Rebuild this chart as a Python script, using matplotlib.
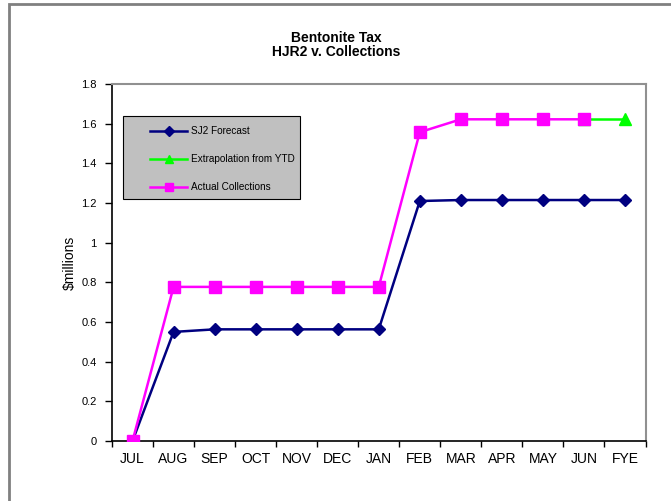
import matplotlib
matplotlib.use("Agg")
import matplotlib.pyplot as plt
from matplotlib.patches import Rectangle
from matplotlib.lines import Line2D
import numpy as np

months = ["JUL", "AUG", "SEP", "OCT", "NOV", "DEC", "JAN", "FEB", "MAR", "APR", "MAY", "JUN", "FYE"]
sj2_forecast = [0, 0.55, 0.563, 0.563, 0.563, 0.563, 0.563, 1.21, 1.215, 1.215, 1.215, 1.215, 1.215]
extrapolation = [None, None, None, None, None, None, None, None, None, None, None, 1.622, 1.622]
actual = [0, 0.777, 0.777, 0.777, 0.777, 0.777, 0.777, 1.557, 1.622, 1.622, 1.622, 1.622, None]
series_names = ["SJ2 Forecast", "Extrapolation from YTD", "Actual Collections"]
y_ticks = [0, 0.2, 0.4, 0.6, 0.8, 1, 1.2, 1.4, 1.6, 1.8]
y_labels = ["0", "0.2", "0.4", "0.6", "0.8", "1", "1.2", "1.4", "1.6", "1.8"]

plt.rcParams['font.family'] = ['Liberation Sans', 'DejaVu Sans']

W, H = 671, 501
fig = plt.figure(figsize=(W / 100, H / 100), dpi=100)

def fx(px):
    return px / W

def fy(py):
    return 1 - py / H

# outer chart frame
fig.patches.append(Rectangle((fx(9), -0.05), 1.2, fy(4) + 0.05, transform=fig.transFigure,
                             fill=False, edgecolor="#808080", linewidth=2))

left, right, top, bottom = 112, 645.5, 84, 441
ax = fig.add_axes([fx(left), fy(bottom), (right - left) / W, (bottom - top) / H])

x = np.arange(len(months))

def to_arr(v):
    return np.array([np.nan if a is None else a for a in v], dtype=float)

colors = ["#000080", "#00FF00", "#FF00FF"]
markers = ["D", "^", "s"]
msizes = [6, 8, 8]
data = [sj2_forecast, extrapolation, actual]
for i in range(3):
    ax.plot(x, to_arr(data[i]), color=colors[i], marker=markers[i], markersize=msizes[i],
            linewidth=1.8, label=series_names[i], zorder=3 + (i == 2))

ax.set_xlim(-0.5, len(months) - 0.5)
ax.set_ylim(0, 1.8)
ax.set_yticks(y_ticks)
ax.set_yticklabels(y_labels, fontsize=8)
ax.set_xticks(np.arange(-0.5, len(months), 1.0))
ax.set_xticklabels([])
ax.set_xticks(x, minor=True)
ax.set_xticklabels(months, minor=True, fontsize=10)
ax.tick_params(axis="x", which="major", direction="out", length=4, width=1, color="black")
ax.tick_params(axis="x", which="minor", length=0, pad=8)
ax.tick_params(axis="y", direction="out", length=5, width=1, pad=6)

for s in ["left", "bottom"]:
    ax.spines[s].set_color("black")
    ax.spines[s].set_linewidth(1.2)
for s in ["top", "right"]:
    ax.spines[s].set_color("#909090")
    ax.spines[s].set_linewidth(1.5)

ax.set_ylabel("$millions", fontsize=10, labelpad=3)

fig.text(fx(336), fy(38), "Bentonite Tax", ha="center", va="center", fontsize=10, fontweight="bold")
fig.text(fx(336), fy(52), "HJR2 v. Collections", ha="center", va="center", fontsize=10, fontweight="bold")

# legend drawn manually to match the original box geometry
lx0, lx1, ly0, ly1 = 123, 300, 116, 199
fig.patches.append(Rectangle((fx(lx0), fy(ly1)), (lx1 - lx0) / W, (ly1 - ly0) / H,
                             transform=fig.transFigure, facecolor="#C0C0C0", edgecolor="black",
                             linewidth=0.8, zorder=10))
rows = [130.5, 158.5, 186.5]
leg_ms = [5, 6, 6]
for i in range(3):
    yy = fy(rows[i])
    fig.add_artist(Line2D([fx(150), fx(187)], [yy, yy], color=colors[i], linewidth=1.8,
                          transform=fig.transFigure, zorder=11))
    fig.add_artist(Line2D([fx(168.5)], [yy], color=colors[i], marker=markers[i],
                          markersize=leg_ms[i], linestyle="none",
                          transform=fig.transFigure, zorder=12))
    fig.text(fx(191), yy, series_names[i], ha="left", va="center", fontsize=7.2, zorder=12)

fig.savefig("out.png", dpi=100)
